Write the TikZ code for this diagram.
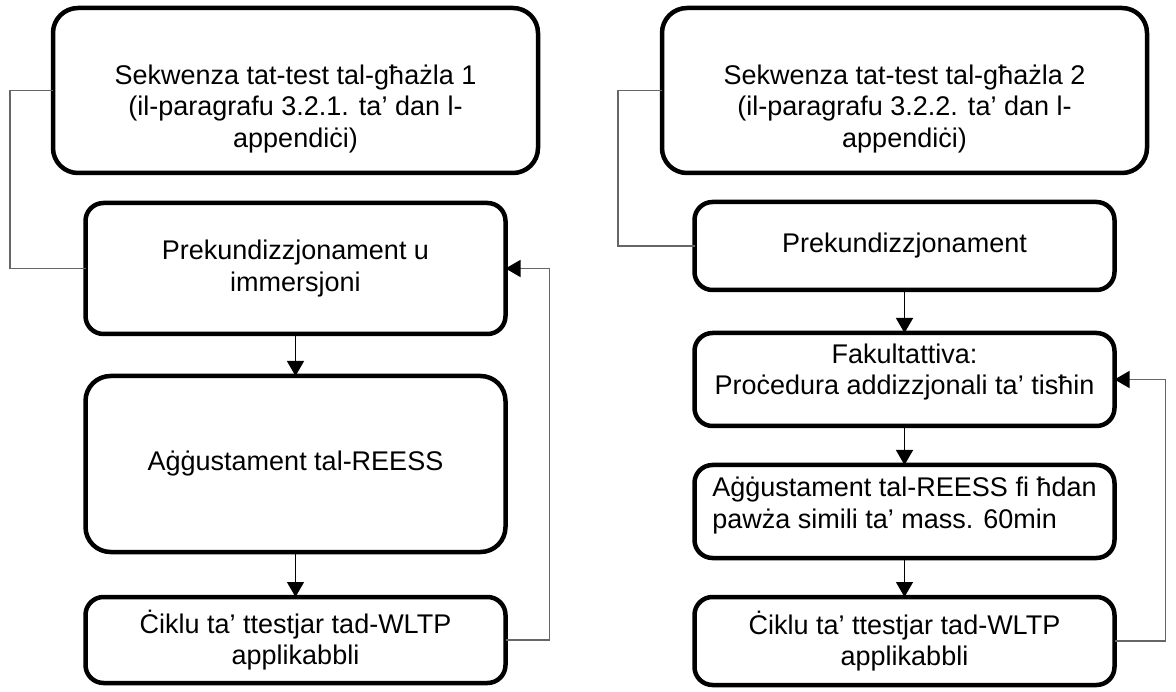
\documentclass[tikz,border=0pt]{standalone}
\usepackage{fontspec}
\setmainfont{Liberation Sans}
\usepackage{tikz}
\usetikzlibrary{positioning, arrows.meta}

\begin{document}
\begin{tikzpicture}[x=1pt, y=-1pt,
        box/.style={draw, line width=4.5pt, rounded corners=18pt, outer sep=0pt, minimum width=420pt, align=center, font=\fontsize{27}{31.5}\selectfont},
        bigbox/.style={box, rounded corners=25pt, minimum width=485pt, minimum height=165pt},
        link/.style={draw=black!60, line width=1.4pt},
        flow/.style={line width=1.4pt, -{Triangle[length=15pt, width=17pt]}},
        back/.style={link, -{Triangle[length=15pt, width=17pt, color=black]}}]
        \useasboundingbox (0,0) rectangle (1176,692);

        % left sequence
        \node[bigbox, text height=119pt] (seq1) at (295.5,90.5) {Sekwenza tat-test tal-għażla 1\\(il-paragrafu 3.2.1. ta’ dan l-\\appendiċi)};
        \node[box, minimum height=131pt, below=30pt of seq1] (pre1) {Prekundizzjonament u\\immersjoni};
        \node[box, rounded corners=25pt, minimum height=176pt, below=42pt of pre1] (adj1) {Aġġustament tal-REESS};
        \node[box, minimum height=86pt, below=45pt of adj1] (wltp1) {Ċiklu ta’ ttestjar tad-WLTP\\applikabbli};

        % right sequence
        \node[bigbox, text height=119pt] (seq2) at (904.5,90.5) {Sekwenza tat-test tal-għażla 2\\(il-paragrafu 3.2.2. ta’ dan l-\\appendiċi)};
        \node[box, minimum height=88pt, below=29pt of seq2] (pre2) {Prekundizzjonament};
        \node[box, minimum height=93pt, text height=36pt, below=43pt of pre2] (opt2) {Fakultattiva:\\Proċedura addizzjonali ta’ tisħin};
        \node[box, minimum height=93pt, text height=39pt, align=left, below=39pt of opt2] (adj2) {Aġġustament tal-REESS fi ħdan\\pawża simili ta’ mass. 60min};
        \node[box, minimum height=88pt, below=39pt of adj2] (wltp2) {Ċiklu ta’ ttestjar tad-WLTP\\applikabbli};

        \draw[link] (seq1.west) -- ++(-43,0) |- (pre1.west);
        \draw[link] (seq2.west) -- ++(-44,0) |- (pre2.west);

        \draw[flow] (pre1) -- (adj1);
        \draw[flow] (adj1) -- (wltp1);
        \draw[flow] (pre2) -- (opt2);
        \draw[flow] (opt2) -- (adj2);
        \draw[flow] (adj2) -- (wltp2);

        \draw[back] (wltp1.east) -- ++(44,0) |- (pre1.east);
        \draw[back] (wltp2.east) -- ++(51,0) |- (opt2.east);
    \end{tikzpicture}
\end{document}
